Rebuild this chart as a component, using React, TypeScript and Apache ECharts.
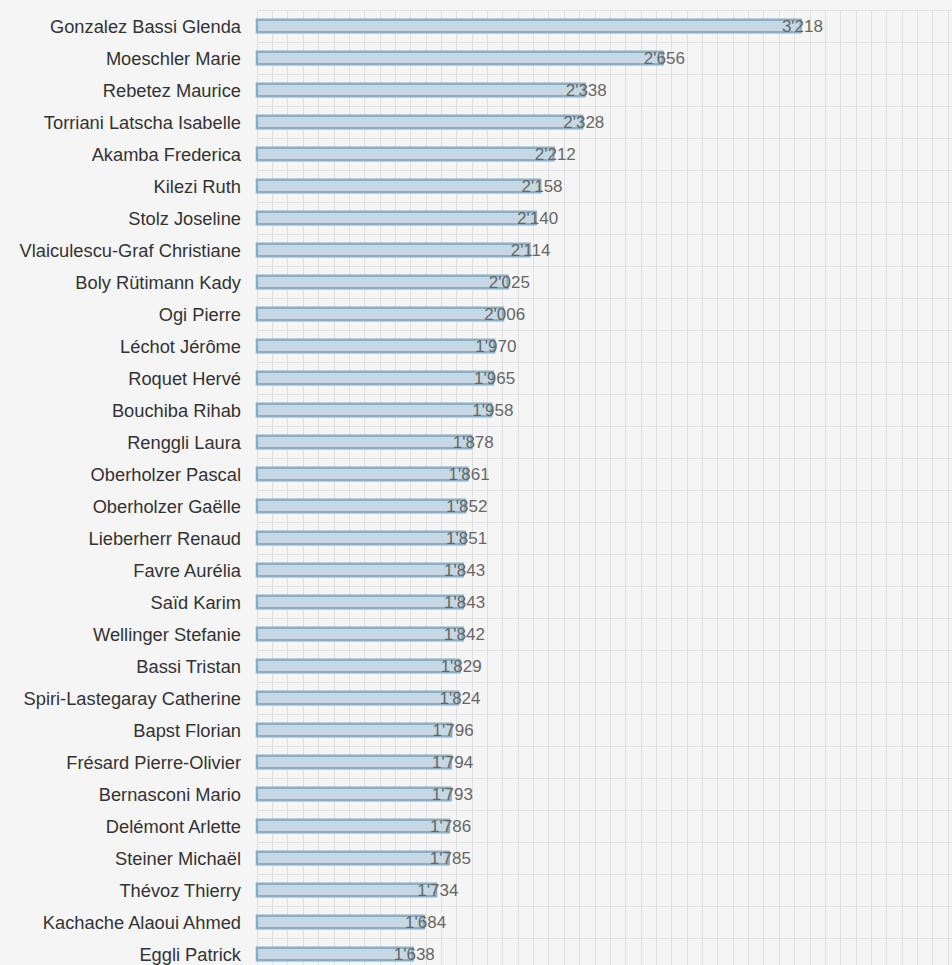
import React, { useEffect, useRef } from "react";
import * as echarts from "echarts";

const names = [
  "Gonzalez Bassi Glenda",
  "Moeschler Marie",
  "Rebetez Maurice",
  "Torriani Latscha Isabelle",
  "Akamba Frederica",
  "Kilezi Ruth",
  "Stolz Joseline",
  "Vlaiculescu-Graf Christiane",
  "Boly Rütimann Kady",
  "Ogi Pierre",
  "Léchot Jérôme",
  "Roquet Hervé",
  "Bouchiba Rihab",
  "Renggli Laura",
  "Oberholzer Pascal",
  "Oberholzer Gaëlle",
  "Lieberherr Renaud",
  "Favre Aurélia",
  "Saïd Karim",
  "Wellinger Stefanie",
  "Bassi Tristan",
  "Spiri-Lastegaray Catherine",
  "Bapst Florian",
  "Frésard Pierre-Olivier",
  "Bernasconi Mario",
  "Delémont Arlette",
  "Steiner Michaël",
  "Thévoz Thierry",
  "Kachache Alaoui Ahmed",
  "Eggli Patrick",
];

const votes = [
  3218, 2656, 2338, 2328, 2212, 2158, 2140, 2114, 2025, 2006, 1970, 1965, 1958,
  1878, 1861, 1852, 1851, 1843, 1843, 1842, 1829, 1824, 1796, 1794, 1793, 1786,
  1785, 1734, 1684, 1638,
];

const xMin = 1000;
const xMax = 4000;
const xInterval = 250;

function fmt(v: number): string {
  const s = String(Math.round(v));
  return s.replace(/\B(?=(\d{3})+(?!\d))/g, "'");
}

export default function App() {
  const ref = useRef<HTMLDivElement>(null);
  useEffect(() => {
    document.body.style.margin = "0";
    document.body.style.overflow = "hidden";
    document.documentElement.style.overflow = "hidden";
    document.body.style.background = "#f5f5f5";
    if (!ref.current) return;
    const chart = echarts.init(ref.current, undefined, { renderer: "svg" });
    const font = "'Liberation Sans', Arial, sans-serif";
    chart.setOption({
      animation: false,
      backgroundColor: "#f5f5f5",
      grid: { left: 257, top: 10, right: 6, bottom: 10, containLabel: false },
      xAxis: {
        type: "value",
        min: xMin,
        max: xMax,
        interval: xInterval,
        axisLine: { show: false },
        axisTick: { show: false },
        axisLabel: { show: false },
        splitLine: { show: true, lineStyle: { color: "#e0e0e0", width: 1 } },
        minorTick: { show: false, splitNumber: 4 },
        minorSplitLine: { show: true, lineStyle: { color: "#e0e0e0", width: 1 } },
      },
      yAxis: {
        type: "category",
        data: names,
        inverse: true,
        axisLine: { show: false },
        axisTick: { show: false },
        axisLabel: {
          color: "#333333",
          fontFamily: font,
          fontSize: 18.3,
          margin: 16,
        },
        splitLine: { show: true, lineStyle: { color: "#e0e0e0", width: 1 } },
      },
      series: [
        {
          type: "bar",
          data: votes,
          barWidth: 15,
          itemStyle: {
            color: "#c5d8e3",
            borderColor: "#88afc7",
            borderWidth: 2.5,
          },
          label: {
            show: true,
            position: "right",
            distance: 0,
            offset: [-20, 0],
            color: "#666666",
            fontFamily: font,
            fontSize: 17,
            formatter: (p: any) => fmt(p.value),
          },
        },
      ],
    });
    return () => chart.dispose();
  }, []);
  return <div ref={ref} style={{ width: 1000, height: 980 }} />;
}
